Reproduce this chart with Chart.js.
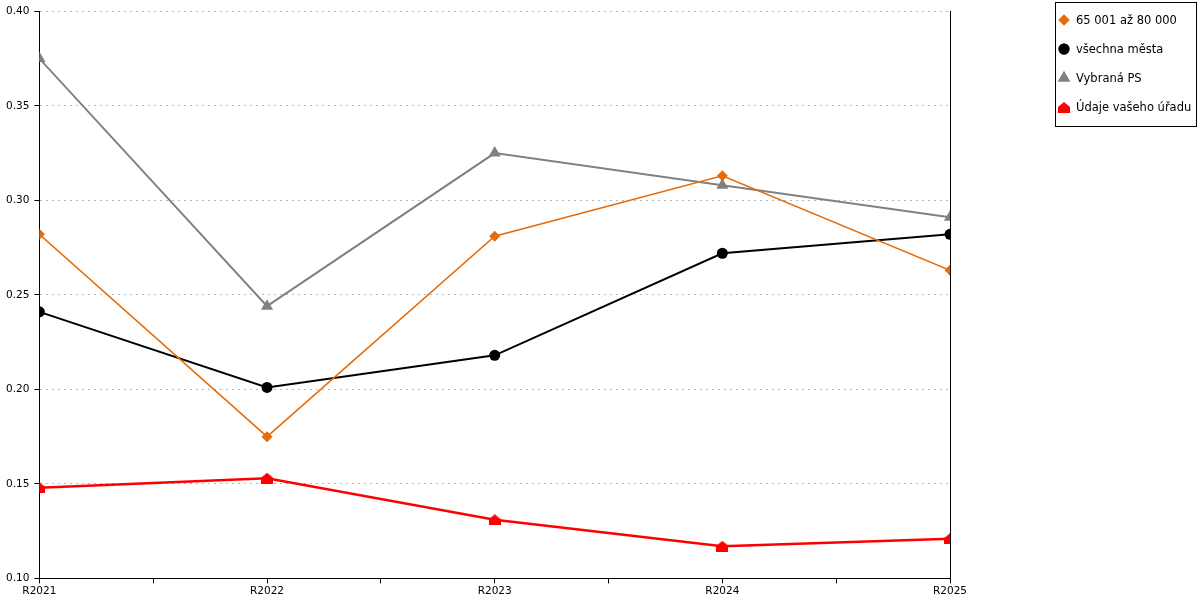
<!DOCTYPE html>
<html>
<head>
<meta charset="utf-8">
<script src="https://cdn.jsdelivr.net/npm/chart.js@4"></script>
<style>
  html, body { margin: 0; padding: 0; background: #fff; }
  #wrap { position: relative; width: 1200px; height: 600px; }
  #legend {
    position: absolute; left: 1055px; top: 2px; width: 140px; height: 123px;
    border: 1px solid #000; font: 11.5px "DejaVu Sans", sans-serif; color: #000;
  }
  .item { position: absolute; left: 1px; height: 16px; display: flex; align-items: center; white-space: nowrap; }
  .item canvas { margin-right: 5px; }
</style>
</head>
<body>
<div id="wrap">
  <canvas id="chart" width="1200" height="600"></canvas>
  <div id="legend"></div>
</div>
<script>
// categories and series values
const years = ["R2021", "R2022", "R2023", "R2024", "R2025"];
const cat6580 = [0.282, 0.175, 0.281, 0.313, 0.263];
const allCities = [0.241, 0.201, 0.218, 0.272, 0.282];
const selectedPS = [0.375, 0.244, 0.325, 0.308, 0.291];
const yourOffice = [0.148, 0.153, 0.131, 0.117, 0.121];
const yTicks = [0.10, 0.15, 0.20, 0.25, 0.30, 0.35, 0.40];

// little house shaped marker for the red series
function houseMarker(color) {
  let c = document.createElement("canvas");
  c.width = 12; c.height = 11;
  let g = c.getContext("2d");
  g.fillStyle = color;
  g.beginPath();
  g.moveTo(6, 0);
  g.lineTo(12, 5);
  g.lineTo(12, 11);
  g.lineTo(0, 11);
  g.lineTo(0, 5);
  g.closePath();
  g.fill();
  return c;
}

function toPoints(values) {
  return values.map((v, i) => ({ x: i, y: v }));
}

const series = [
  { label: "65 001 až 80 000", data: cat6580, color: "#E46C0A", style: "rectRot", radius: 5.5, width: 1.5 },
  { label: "všechna města", data: allCities, color: "#000000", style: "circle", radius: 5.5, width: 2 },
  { label: "Vybraná PS", data: selectedPS, color: "#808080", style: "triangle", radius: 7, width: 2 },
  { label: "Údaje vašeho úřadu", data: yourOffice, color: "#FF0000", style: houseMarker("#FF0000"), radius: 6, width: 2.5 }
];

const font = { family: "DejaVu Sans", size: 10.5 };

let chart = new Chart(document.getElementById("chart"), {
  type: "line",
  data: {
    datasets: series.map(s => ({
      label: s.label,
      data: toPoints(s.data),
      borderColor: s.color,
      backgroundColor: s.color,
      borderWidth: s.width,
      pointStyle: s.style,
      pointRadius: s.radius,
      pointHoverRadius: s.radius,
      pointBorderWidth: 0,
      tension: 0
    }))
  },
  options: {
    responsive: false,
    animation: false,
    layout: { padding: { left: 1, right: 242, top: 4, bottom: 0 } },
    plugins: { legend: { display: false }, tooltip: { enabled: false } },
    scales: {
      x: {
        type: "linear",
        min: 0,
        max: 4,
        afterBuildTicks: axis => {
          let t = [];
          for (let i = 0; i <= (years.length - 1) * 2; i++) t.push({ value: i / 2 });
          axis.ticks = t;
        },
        ticks: {
          color: "#000",
          font: font,
          padding: 2,
          maxRotation: 0,
          autoSkip: false,
          callback: v => Number.isInteger(v) ? years[v] : ""
        },
        grid: { drawOnChartArea: false, drawTicks: true, tickLength: 5, tickColor: "#000" },
        border: { color: "#000", width: 1 }
      },
      y: {
        min: 0.10,
        max: 0.40,
        afterBuildTicks: axis => { axis.ticks = yTicks.map(v => ({ value: v })); },
        ticks: { color: "#000", font: font, padding: 5, callback: v => v.toFixed(2) },
        grid: { color: "#b8b8b8", tickLength: 5, tickColor: "#000", tickBorderDash: [], tickWidth: 1 },
        border: { color: "#000", width: 1, dash: [2, 4] }
      },
      y2: {
        position: "right",
        min: 0.10,
        max: 0.40,
        ticks: { display: false },
        grid: { display: false },
        border: { color: "#000", width: 1 }
      }
    }
  }
});

// legend built from the same series
let legend = document.getElementById("legend");
series.forEach((s, i) => {
  let item = document.createElement("div");
  item.className = "item";
  item.style.top = (9 + i * 29) + "px";
  let icon = document.createElement("canvas");
  icon.width = 14; icon.height = 14;
  let g = icon.getContext("2d");
  if (typeof s.style === "string") {
    g.fillStyle = s.color;
    Chart.helpers.drawPoint(g, { pointStyle: s.style, radius: s.radius, borderWidth: 0 }, 7, 7);
    g.fill();
  } else {
    g.drawImage(s.style, 1, 2);
  }
  item.appendChild(icon);
  let text = document.createElement("span");
  text.textContent = s.label;
  item.appendChild(text);
  legend.appendChild(item);
});
</script>
</body>
</html>
